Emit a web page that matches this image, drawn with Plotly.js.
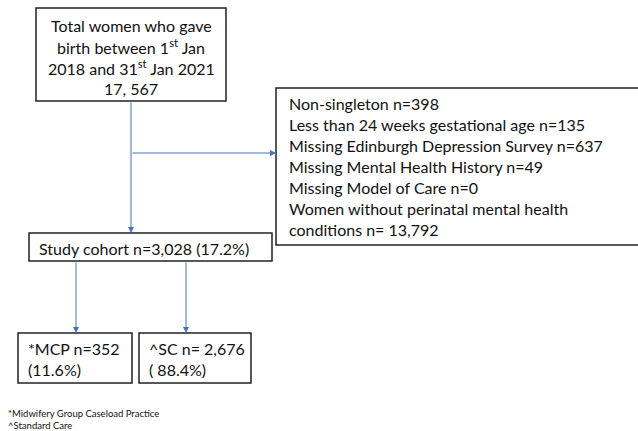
<!DOCTYPE html>
<html>
<head>
<meta charset="utf-8">
<script src="https://cdn.plot.ly/plotly-3.0.1.min.js"></script>
<style>html,body{margin:0;padding:0;background:#fff;}#chart{width:638px;height:431px;}</style>
</head>
<body>
<div id="chart"></div>
<script>
// ---- content ----
var topBoxLines = ["Total women who gave", "birth between 1<sup>st</sup> Jan", "2018 and 31<sup>st</sup> Jan 2021", "17, 567"];
var exclusionLines = ["Non-singleton n=398", "Less than 24 weeks gestational age n=135", "Missing Edinburgh Depression Survey n=637", "Missing Mental Health History n=49", "Missing Model of Care n=0", "Women without perinatal mental health", "conditions n= 13,792"];
var cohortLines = ["Study cohort n=3,028 (17.2%)"];
var mcpLines = ["*MCP n=352", "(11.6%)"];
var scLines = ["^SC n= 2,676", "( 88.4%)"];
var footnotes = ["*Midwifery Group Caseload Practice", "^Standard Care"];

// ---- layout geometry (pixel space) ----
var FONT = "Lato, 'Open Sans', sans-serif";
var boxes = [
  {x0: 36, y0: 8, x1: 226, y1: 101, lines: topBoxLines, align: "center", tx: 131, ty: 25, dy: 21},
  {x0: 276, y0: 88, x1: 660, y1: 245, lines: exclusionLines, align: "left", tx: 287, ty: 103, dy: 21},
  {x0: 29, y0: 233, x1: 272, y1: 261, lines: cohortLines, align: "left", tx: 37, ty: 248, dy: 21},
  {x0: 18, y0: 333, x1: 132, y1: 383, lines: mcpLines, align: "left", tx: 26, ty: 348, dy: 21},
  {x0: 139, y0: 333, x1: 251, y1: 383, lines: scLines, align: "left", tx: 147, ty: 348, dy: 21}
];
var connectors = [
  {x0: 131, y0: 101, x1: 131, y1: 233},
  {x0: 131, y0: 153, x1: 276, y1: 153},
  {x0: 76, y0: 261, x1: 76, y1: 333},
  {x0: 186, y0: 261, x1: 186, y1: 333}
];

var shapes = [];
var annotations = [];
boxes.forEach(function (b) {
  shapes.push({type: "rect", xref: "x", yref: "y", x0: b.x0, y0: b.y0, x1: b.x1, y1: b.y1,
    line: {color: "#222", width: 1.5}, fillcolor: "rgba(0,0,0,0)"});
  b.lines.forEach(function (t, i) {
    annotations.push({xref: "x", yref: "y", x: b.tx, y: b.ty + i * b.dy, text: t, showarrow: false,
      xanchor: b.align === "center" ? "center" : "left", yanchor: "middle",
      font: {family: FONT, size: 16, color: "#111"}});
  });
});
connectors.forEach(function (c) {
  annotations.push({xref: "x", yref: "y", axref: "x", ayref: "y", x: c.x1, y: c.y1, ax: c.x0, ay: c.y0,
    text: "", showarrow: true, arrowhead: 2, arrowsize: 1.2, arrowwidth: 1, arrowcolor: "#4472C4", standoff: 0});
});
footnotes.forEach(function (t, i) {
  annotations.push({xref: "x", yref: "y", x: 6, y: 413 + i * 12, text: t, showarrow: false,
    xanchor: "left", yanchor: "middle", font: {family: FONT, size: 9.5, color: "#111"}});
});

var layout = {
  width: 638, height: 431,
  margin: {l: 0, r: 0, t: 0, b: 0},
  paper_bgcolor: "#fff", plot_bgcolor: "#fff",
  xaxis: {range: [0, 638], visible: false, fixedrange: true},
  yaxis: {range: [431, 0], visible: false, fixedrange: true},
  showlegend: false,
  shapes: shapes,
  annotations: annotations
};
Plotly.newPlot("chart", [{x: [], y: [], type: "scatter"}], layout, {staticPlot: true, displayModeBar: false});
</script>
</body>
</html>
